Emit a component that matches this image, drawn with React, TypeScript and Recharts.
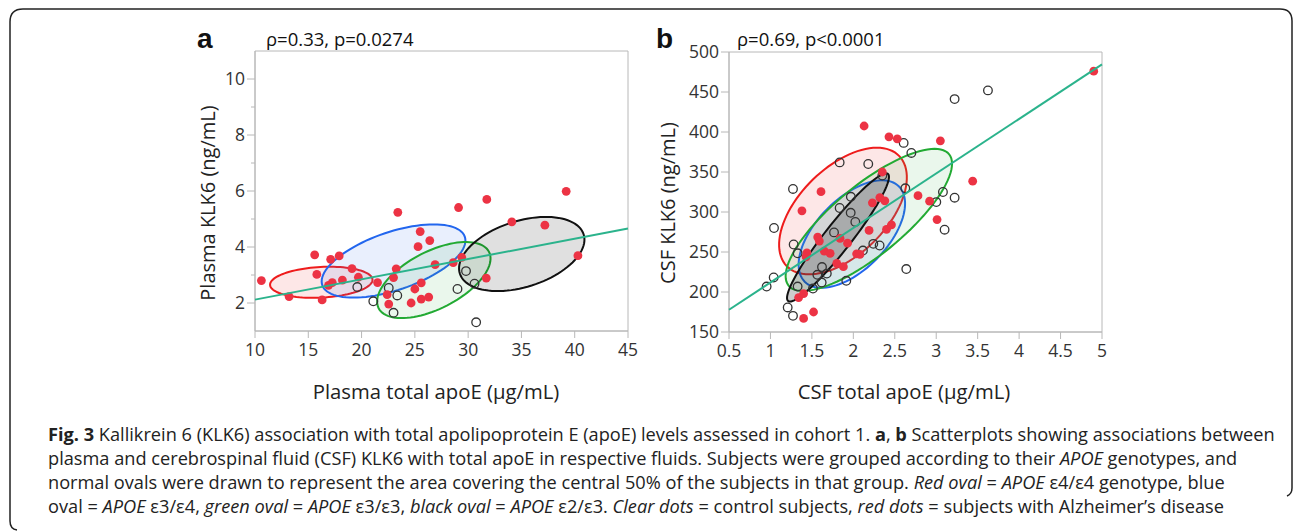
import React from "react";
import { ScatterChart, Scatter, XAxis, YAxis, ReferenceArea } from "recharts";

// ---- panel a: plasma ----
const plasmaAD = [
  [10.6, 2.8], [13.2, 2.23], [15.6, 3.72], [15.8, 3.02], [16.3, 2.11], [16.9, 2.63],
  [17.1, 3.56], [17.25, 2.73], [17.9, 3.68], [18.2, 2.82], [19.1, 3.23], [19.7, 2.92],
  [21.5, 2.73], [22.4, 2.3], [22.55, 1.96], [23.0, 2.91], [23.25, 3.22], [23.4, 5.24],
  [24.65, 2.0], [25.0, 2.5], [25.3, 4.01], [25.5, 4.55], [25.6, 2.72], [25.6, 2.14],
  [26.3, 2.21], [26.4, 4.23], [26.9, 3.37], [28.6, 3.44], [29.1, 5.41], [29.4, 3.63],
  [31.7, 2.89], [31.75, 5.7], [34.1, 4.9], [37.2, 4.78], [39.2, 5.99], [40.3, 3.69],
];
const plasmaControl = [
  [19.6, 2.57], [21.1, 2.06], [22.55, 2.54], [23.35, 2.27], [23.0, 1.65],
  [29.0, 2.5], [29.8, 3.14], [30.6, 2.69], [30.75, 1.31],
];
const plasmaFit = [[10, 2.12], [45, 4.66]];
// ovals: centre x, centre y, then two half-axis vectors (x, y) in data units
const plasmaOvals = {
  e44: [16.22, 2.74, 4.806, 0.096, 0.075, -0.547],
  e34: [23.0, 3.5, 6.688, 0.864, 0.872, -0.982],
  e33: [26.78, 2.82, 5.18, 1.006, 1.22, -0.913],
  e23: [35.03, 3.75, 5.81, 0.699, 0.93, -1.125],
};
const plasmaXTicks = [10, 15, 20, 25, 30, 35, 40, 45];
const plasmaYTicks = [2, 3, 4, 5, 6, 7, 8, 9, 10];

// ---- panel b: CSF ----
const csfAD = [
  [1.34, 193], [1.38, 301.5], [1.4, 198], [1.4, 167], [1.44, 249], [1.43, 244], [1.52, 175],
  [1.57, 268.6], [1.59, 263.6], [1.61, 325.4], [1.65, 251], [1.72, 248.4], [1.8, 235.8],
  [1.84, 267], [1.88, 231.7], [1.93, 261], [2.04, 247.7], [2.08, 247], [2.13, 407.5],
  [2.19, 277], [2.23, 311.5], [2.32, 318], [2.35, 350], [2.38, 314], [2.4, 278.3], [2.43, 394],
  [2.46, 284], [2.53, 391.5], [2.78, 320.4], [2.92, 313.5], [3.01, 290.5], [3.05, 389],
  [3.44, 338.5], [4.9, 476],
];
const csfControl = [
  [0.954, 206.8], [1.039, 218.2], [1.043, 280], [1.208, 180.7], [1.272, 170.2], [1.272, 328.8],
  [1.28, 259.4], [1.328, 248.4], [1.328, 206.8], [1.513, 204.3], [1.566, 221.5], [1.618, 211.8],
  [1.622, 231.2], [1.68, 223], [1.767, 274.5], [1.835, 305], [1.835, 362], [1.915, 214],
  [1.968, 299], [1.97, 319], [2.024, 287.6], [2.116, 251.8], [2.18, 360], [2.241, 260.2],
  [2.317, 258.1], [2.35, 345.6], [2.607, 386.4], [2.627, 329.6], [2.639, 228.7], [2.7, 373.8],
  [3.001, 312.4], [3.081, 325], [3.101, 277.9], [3.222, 317.9], [3.222, 441.1], [3.624, 452],
];
const csfFit = [[0.5, 177.8], [5, 484.5]];
const csfOvals = {
  e44: [1.875, 301.2, 0.6797, 68.68, 0.3631, -39.34],
  e34: [1.982, 272.4, 0.5686, 59.5, 0.2985, -31.23],
  e33: [2.187, 290.1, 0.9687, 82.07, 0.2632, -34.0],
  e23: [1.815, 268.2, 0.6019, 79.46, 0.126, -10.45],
};
const csfXTicks = [0.5, 1, 1.5, 2, 2.5, 3, 3.5, 4, 4.5, 5];
const csfYTicks = [150, 200, 250, 300, 350, 400, 450, 500];

const RED = "#ec3344";
const FIT = "#2bb38c";
const AXIS = "#b8b8b8";
const TICK_FONT = "'Open Sans', 'Noto Sans', sans-serif";

const toXY = (arr: number[][]) => arr.map(([x, y]) => ({ x, y }));

// outline of an oval from its centre and half-axis vectors
const oval = (e: number[]) =>
  Array.from({ length: 97 }, (_, i) => {
    const t = (i / 96) * Math.PI * 2;
    return {
      x: e[0] + e[2] * Math.cos(t) + e[4] * Math.sin(t),
      y: e[1] + e[3] * Math.cos(t) + e[5] * Math.sin(t),
    };
  });

const Dot = (p: any) => <circle cx={p.cx} cy={p.cy} r={4.4} fill={RED} />;
const Ring = (p: any) => (
  <circle cx={p.cx} cy={p.cy} r={4.3} fill="none" stroke="#333" strokeWidth={1.3} />
);
const NoDot = () => <g />;

const tickStyle = { fill: "#333", fontSize: 17.5, fontFamily: TICK_FONT };

// y ticks of panel a: labels on even values, short marks on odd ones
const PlasmaYTick = (p: any) => {
  const v = p.payload.value;
  const major = v % 2 === 0;
  const ax = p.x + 10;
  return (
    <g>
      <line x1={ax - (major ? 8 : 4)} x2={ax} y1={p.y} y2={p.y} stroke={AXIS} />
      {major && (
        <text x={p.x} y={p.y} dy="0.36em" textAnchor="end" {...tickStyle}>
          {v}
        </text>
      )}
    </g>
  );
};

const ovalColors = {
  e44: { stroke: "#ee1c1c", fill: "rgba(240,60,60,0.12)" },
  e34: { stroke: "#2266ee", fill: "rgba(70,120,240,0.12)" },
  e33: { stroke: "#22aa33", fill: "rgba(60,180,80,0.11)" },
  e23: { stroke: "#111111", fill: "rgba(0,0,0,0.12)" },
};

function Panel(props: {
  ovals: Record<string, number[]>;
  ad: number[][];
  control: number[][];
  fit: number[][];
  xDomain: number[];
  yDomain: number[];
  xTicks: number[];
  yTicks: number[];
  margin: any;
  width: number;
  blackFill: string;
  minorY?: boolean;
}) {
  const { ovals, xDomain, yDomain } = props;
  return (
    <ScatterChart width={props.width} height={420} margin={props.margin}>
      <XAxis
        type="number"
        dataKey="x"
        domain={xDomain}
        ticks={props.xTicks}
        height={30}
        tickSize={7}
        tickMargin={6}
        stroke={AXIS}
        tick={tickStyle}
        interval={0}
      />
      <YAxis
        type="number"
        dataKey="y"
        domain={yDomain}
        ticks={props.yTicks}
        width={50}
        tickSize={8}
        tickMargin={2}
        stroke={AXIS}
        interval={0}
        tickLine={props.minorY ? false : { stroke: AXIS }}
        tick={props.minorY ? <PlasmaYTick /> : tickStyle}
      />
      <ReferenceArea
        x1={xDomain[0]}
        x2={xDomain[1]}
        y1={yDomain[0]}
        y2={yDomain[1]}
        fill="none"
        stroke={AXIS}
        strokeOpacity={1}
        fillOpacity={0}
      />
      {(["e44", "e34", "e33", "e23"] as const).map((k) => (
        <Scatter
          key={k}
          data={oval(ovals[k])}
          shape={NoDot}
          line={{
            stroke: ovalColors[k].stroke,
            strokeWidth: 2,
            fill: k === "e23" ? props.blackFill : ovalColors[k].fill,
          }}
          lineJointType="linearClosed"
          isAnimationActive={false}
        />
      ))}
      <Scatter data={toXY(props.control)} shape={Ring} isAnimationActive={false} />
      <Scatter data={toXY(props.ad)} shape={Dot} isAnimationActive={false} />
      <Scatter
        data={toXY(props.fit)}
        shape={NoDot}
        line={{ stroke: FIT, strokeWidth: 2 }}
        isAnimationActive={false}
      />
    </ScatterChart>
  );
}

const captionLines = [
  <>
    <b>Fig. 3</b> Kallikrein 6 (KLK6) association with total apolipoprotein E (apoE) levels assessed in
    cohort 1. <b>a</b>, <b>b</b> Scatterplots showing associations between
  </>,
  <>
    plasma and cerebrospinal fluid (CSF) KLK6 with total apoE in respective fluids. Subjects were
    grouped according to their <i>APOE</i> genotypes, and
  </>,
  <>
    normal ovals were drawn to represent the area covering the central 50% of the subjects in that
    group. <i>Red oval</i> = <i>APOE</i> ε4/ε4 genotype, blue
  </>,
  <>
    oval = <i>APOE</i> ε3/ε4, <i>green oval</i> = <i>APOE</i> ε3/ε3, <i>black oval</i> ={" "}
    <i>APOE</i> ε2/ε3. <i>Clear dots</i> = control subjects, <i>red dots</i> = subjects with
    Alzheimer’s disease
  </>,
];

export default function App() {
  return (
    <div
      style={{
        position: "fixed",
        left: 0,
        top: 0,
        width: 1293,
        height: 532,
        background: "#fff",
        overflow: "hidden",
      }}
    >
      <div style={{ position: "absolute", left: 0, top: 0 }}>
        <Panel
          width={660}
          margin={{ top: 51, right: 32, bottom: 59, left: 205 }}
          ovals={plasmaOvals}
          ad={plasmaAD}
          control={plasmaControl}
          fit={plasmaFit}
          xDomain={[10, 45]}
          yDomain={[1, 11]}
          xTicks={plasmaXTicks}
          yTicks={plasmaYTicks}
          blackFill="rgba(0,0,0,0.12)"
          minorY
        />
      </div>
      <div style={{ position: "absolute", left: 660, top: 0 }}>
        <Panel
          width={633}
          margin={{ top: 52, right: 191, bottom: 58, left: 19 }}
          ovals={csfOvals}
          ad={csfAD}
          control={csfControl}
          fit={csfFit}
          xDomain={[0.5, 5]}
          yDomain={[150, 500]}
          xTicks={csfXTicks}
          yTicks={csfYTicks}
          blackFill="rgba(0,0,0,0.2)"
        />
      </div>

      <svg
        width={1293}
        height={532}
        style={{ position: "absolute", left: 0, top: 0, pointerEvents: "none" }}
      >
        <path
          d="M17 530 Q10 529 10 521 L10 22 Q10 9 23 9 L1280 9 Q1292 9 1292 21 L1292 488 Q1292 494 1287 496"
          fill="none"
          stroke="#222"
          strokeWidth={1.5}
        />
        <text x={197} y={48} fontFamily="'Liberation Sans', Arial, sans-serif" fontWeight="bold" fontSize={28} fill="#111">
          a
        </text>
        <text x={656} y={48} fontFamily="'Liberation Sans', Arial, sans-serif" fontWeight="bold" fontSize={28} fill="#111">
          b
        </text>
        <text x={266} y={46} fontFamily={TICK_FONT} fontSize={18.5} fill="#111">
          ρ=0.33, p=0.0274
        </text>
        <text x={737} y={46} fontFamily={TICK_FONT} fontSize={18.5} fill="#111">
          ρ=0.69, p&lt;0.0001
        </text>
        <text
          x={208}
          y={203}
          transform="rotate(-90 208 203)"
          textAnchor="middle"
          dy="0.35em"
          fontFamily={TICK_FONT}
          fontSize={20}
          fill="#222"
        >
          Plasma KLK6 (ng/mL)
        </text>
        <text
          x={668}
          y={203}
          transform="rotate(-90 668 203)"
          textAnchor="middle"
          dy="0.35em"
          fontFamily={TICK_FONT}
          fontSize={20}
          fill="#222"
        >
          CSF KLK6 (ng/mL)
        </text>
        <text x={436} y={392} dy="0.35em" textAnchor="middle" fontFamily={TICK_FONT} fontSize={20.3} fill="#222">
          Plasma total apoE (µg/mL)
        </text>
        <text x={904} y={392} dy="0.35em" textAnchor="middle" fontFamily={TICK_FONT} fontSize={20.3} fill="#222">
          CSF total apoE (µg/mL)
        </text>
      </svg>

      <div
        style={{
          position: "absolute",
          left: 48,
          top: 422,
          fontFamily: TICK_FONT,
          fontSize: 18.2,
          lineHeight: "24px",
          color: "#222",
          whiteSpace: "nowrap",
        }}
      >
        {captionLines.map((l, i) => (
          <div key={i}>{l}</div>
        ))}
      </div>
    </div>
  );
}
